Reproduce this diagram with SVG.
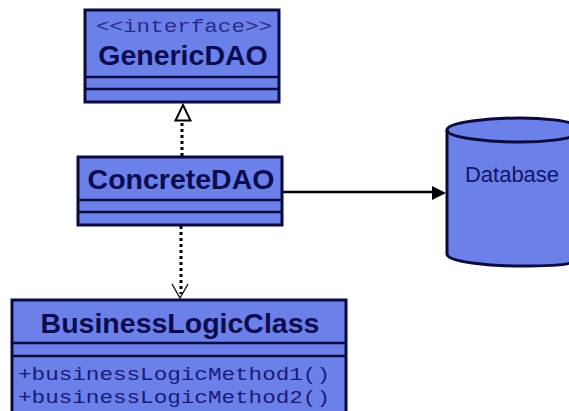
<svg xmlns="http://www.w3.org/2000/svg" width="569" height="411" viewBox="0 0 569 411">
<style>
.box{fill:#6b80e8;stroke:#0a0a40;stroke-width:3}
.div{stroke:#0a0a40;stroke-width:2.5;fill:none}
.name{font-family:"Liberation Sans",Arial,sans-serif;font-weight:bold;font-size:28.5px;fill:#0c0c50;text-anchor:middle}
.mono{font-family:"Liberation Mono","Courier New",monospace;font-size:19px;fill:#1a1a78}
.dot{stroke:#000;stroke-width:3;stroke-dasharray:3 3;fill:none}
</style>
<rect width="569" height="411" fill="#fff"/>
<g id="connectors">
<line class="dot" x1="182" y1="156" x2="182" y2="122"/>
<path d="M183 105L175.500 120.500H190.500Z" fill="#fff" stroke="#000" stroke-width="2"/>
<line class="dot" x1="181" y1="226" x2="181" y2="294"/>
<path d="M172 284L180 298L188 284" fill="none" stroke="#222" stroke-width="1.500"/>
<line x1="283" y1="192" x2="434" y2="192" stroke="#000" stroke-width="2.500"/>
<path d="M432 186L446 193L432 200Z" fill="#000"/>
</g>
<g id="GenericDAO">
<rect class="box" x="85" y="10" width="194" height="92"/>
<line class="div" x1="85" y1="77" x2="279" y2="77"/>
<line class="div" x1="85" y1="89" x2="279" y2="89"/>
<text class="mono" x="96" y="32" textLength="176" lengthAdjust="spacingAndGlyphs" style="fill:#2a2a88">&lt;&lt;interface&gt;&gt;</text>
<text class="name" x="183" y="65">GenericDAO</text>
</g>
<g id="ConcreteDAO">
<rect class="box" x="78" y="157" width="204" height="68"/>
<line class="div" x1="78" y1="200" x2="282" y2="200"/>
<line class="div" x1="78" y1="212" x2="282" y2="212"/>
<text class="name" x="181" y="189">ConcreteDAO</text>
</g>
<g id="BusinessLogicClass">
<path class="box" d="M12 411V300H346V411"/>
<line class="div" x1="12" y1="343" x2="346" y2="343"/>
<line class="div" x1="12" y1="356" x2="346" y2="356"/>
<text class="name" x="180" y="333">BusinessLogicClass</text>
<text class="mono" x="18" y="380" textLength="312" lengthAdjust="spacingAndGlyphs">+businessLogicMethod1()</text>
<text class="mono" x="18" y="403" textLength="312" lengthAdjust="spacingAndGlyphs">+businessLogicMethod2()</text>
</g>
<g id="Database">
<path d="M447 130C447 122 490 118 520 118C545 118 569 121 572 124V262C569 265 545 266 520 266C490 266 447 262 447 254Z" fill="#6b80e8" stroke="#0a0a40" stroke-width="3"/>
<path d="M447 130C447 138 490 142 520 142C545 142 569 139 572 136" fill="none" stroke="#0a0a40" stroke-width="3"/>
<text x="512" y="182" text-anchor="middle" font-size="22" style="font-family:'Liberation Sans',Arial,sans-serif;fill:#14146a">Database</text>
</g>
</svg>
